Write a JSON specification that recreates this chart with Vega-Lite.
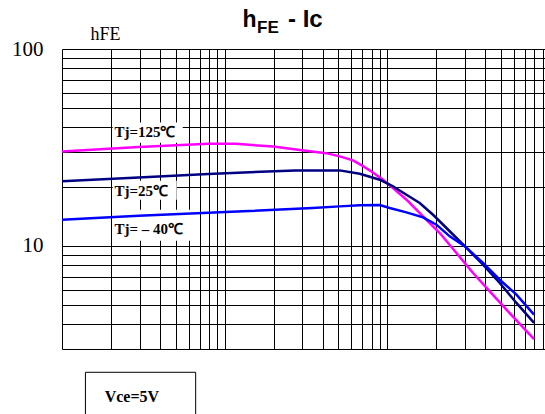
{
  "$schema": "https://vega.github.io/schema/vega-lite/v6.json",
  "autosize": {"type": "none"},
  "padding": {"left": 62, "top": 49, "right": 0, "bottom": 65},
  "width": 483,
  "height": 300,
  "background": "white",
  "config": {"view": {"stroke": null}},
  "datasets": {
    "curves": [
      {"Ic": 1, "hFE": 30.2, "Tj": "125"},
      {"Ic": 2.96, "hFE": 31.8, "Tj": "125"},
      {"Ic": 7.92, "hFE": 33.0, "Tj": "125"},
      {"Ic": 11.68, "hFE": 33.0, "Tj": "125"},
      {"Ic": 19.87, "hFE": 32.0, "Tj": "125"},
      {"Ic": 29.74, "hFE": 30.6, "Tj": "125"},
      {"Ic": 42, "hFE": 29.6, "Tj": "125"},
      {"Ic": 50.9, "hFE": 28.5, "Tj": "125"},
      {"Ic": 61.4, "hFE": 27.2, "Tj": "125"},
      {"Ic": 70, "hFE": 25.6, "Tj": "125"},
      {"Ic": 79.7, "hFE": 23.91, "Tj": "125"},
      {"Ic": 94.0, "hFE": 21.7, "Tj": "125"},
      {"Ic": 108.2, "hFE": 19.7, "Tj": "125"},
      {"Ic": 130.9, "hFE": 17.18, "Tj": "125"},
      {"Ic": 165.5, "hFE": 14.13, "Tj": "125"},
      {"Ic": 209.7, "hFE": 11.64, "Tj": "125"},
      {"Ic": 265.6, "hFE": 9.21, "Tj": "125"},
      {"Ic": 335.9, "hFE": 7.29, "Tj": "125"},
      {"Ic": 425.4, "hFE": 5.88, "Tj": "125"},
      {"Ic": 538.7, "hFE": 4.75, "Tj": "125"},
      {"Ic": 796.2, "hFE": 3.37, "Tj": "125"},
      {"Ic": 1, "hFE": 21.3, "Tj": "25"},
      {"Ic": 2.96, "hFE": 22.3, "Tj": "25"},
      {"Ic": 7.92, "hFE": 23.2, "Tj": "25"},
      {"Ic": 27.08, "hFE": 24.2, "Tj": "25"},
      {"Ic": 50.9, "hFE": 24.2, "Tj": "25"},
      {"Ic": 67.6, "hFE": 23.28, "Tj": "25"},
      {"Ic": 89.7, "hFE": 21.7, "Tj": "25"},
      {"Ic": 108.2, "hFE": 20.06, "Tj": "25"},
      {"Ic": 130.9, "hFE": 18.21, "Tj": "25"},
      {"Ic": 157.9, "hFE": 16.53, "Tj": "25"},
      {"Ic": 190.7, "hFE": 14.41, "Tj": "25"},
      {"Ic": 230.5, "hFE": 12.34, "Tj": "25"},
      {"Ic": 299.9, "hFE": 9.95, "Tj": "25"},
      {"Ic": 386.8, "hFE": 8.04, "Tj": "25"},
      {"Ic": 490.1, "hFE": 6.49, "Tj": "25"},
      {"Ic": 620.8, "hFE": 5.14, "Tj": "25"},
      {"Ic": 796.2, "hFE": 4.07, "Tj": "25"},
      {"Ic": 1, "hFE": 13.6, "Tj": "-40"},
      {"Ic": 2.96, "hFE": 14.25, "Tj": "-40"},
      {"Ic": 12.96, "hFE": 15.0, "Tj": "-40"},
      {"Ic": 34.65, "hFE": 15.6, "Tj": "-40"},
      {"Ic": 50.9, "hFE": 15.89, "Tj": "-40"},
      {"Ic": 67.6, "hFE": 16.08, "Tj": "-40"},
      {"Ic": 89.7, "hFE": 16.15, "Tj": "-40"},
      {"Ic": 103.3, "hFE": 15.59, "Tj": "-40"},
      {"Ic": 130.9, "hFE": 14.81, "Tj": "-40"},
      {"Ic": 165.5, "hFE": 13.97, "Tj": "-40"},
      {"Ic": 200.1, "hFE": 12.83, "Tj": "-40"},
      {"Ic": 241.5, "hFE": 11.19, "Tj": "-40"},
      {"Ic": 299.9, "hFE": 9.95, "Tj": "-40"},
      {"Ic": 386.8, "hFE": 8.2, "Tj": "-40"},
      {"Ic": 490.1, "hFE": 6.74, "Tj": "-40"},
      {"Ic": 620.8, "hFE": 5.66, "Tj": "-40"},
      {"Ic": 796.2, "hFE": 4.48, "Tj": "-40"}
    ],
    "boxes": [
      {"x1": 2.05, "x2": 5.52, "y1": 33.45, "y2": 42.3},
      {"x1": 2.05, "x2": 5.07, "y1": 17.18, "y2": 21.45},
      {"x1": 2.05, "x2": 6.36, "y1": 10.64, "y2": 15.29}
    ],
    "labels": [
      {"label": "Tj=125℃", "x": 2.1, "y": 35.88},
      {"label": "Tj=25℃", "x": 2.1, "y": 17.86},
      {"label": "Tj= – 40℃", "x": 2.1, "y": 11.5}
    ]
  },
  "layer": [
    {
      "data": {"name": "boxes"},
      "mark": {"type": "rect", "fill": "white", "stroke": null},
      "encoding": {
        "x": {"field": "x1", "type": "quantitative"},
        "x2": {"field": "x2"},
        "y": {"field": "y1", "type": "quantitative"},
        "y2": {"field": "y2"}
      }
    },
    {
      "data": {"name": "curves"},
      "mark": {"type": "line", "strokeWidth": 2.5, "interpolate": "linear"},
      "encoding": {
        "x": {
          "field": "Ic", "type": "quantitative",
          "scale": {"type": "log", "domain": [1, 930], "nice": false},
          "axis": {
            "title": null, "labels": false, "ticks": false, "domain": false,
            "grid": true, "gridColor": "black", "gridWidth": 1, "gridOpacity": 1,
            "values": [1,2,3,4,5,6,7,8,9,10,20,30,40,50,60,70,80,90,100,200,300,400,500,600,700,800,900]
          }
        },
        "y": {
          "field": "hFE", "type": "quantitative",
          "scale": {"type": "log", "domain": [3, 100], "nice": false},
          "axis": {
            "title": "hFE", "titleAngle": 0, "titleFont": "Liberation Serif", "titleFontSize": 18,
            "titleFontWeight": "normal", "titleColor": "black", "titleX": 43, "titleY": -10,
            "titleAlign": "center", "titleBaseline": "alphabetic",
            "ticks": false, "domain": false, "labelPadding": 19,
            "labelFont": "Liberation Serif", "labelFontSize": 21, "labelColor": "black",
            "labelOverlap": false, "labelFlush": false, "labelBound": false,
            "labelExpr": "datum.value == 10 || datum.value == 100 ? format(datum.value, 'd') : ''",
            "grid": true, "gridColor": "black", "gridWidth": 1, "gridOpacity": 1,
            "values": [3,4,5,6,7,8,9,10,20,30,40,50,60,70,80,90,100]
          }
        },
        "color": {
          "field": "Tj", "type": "nominal",
          "scale": {"domain": ["125", "25", "-40"], "range": ["#FF00FF", "#000080", "#0000FF"]},
          "legend": null
        }
      }
    },
    {
      "data": {"name": "labels"},
      "mark": {"type": "text", "align": "left", "baseline": "alphabetic", "font": "Liberation Serif", "fontWeight": "bold", "fontSize": 15, "color": "black"},
      "encoding": {
        "x": {"field": "x", "type": "quantitative"},
        "y": {"field": "y", "type": "quantitative"},
        "text": {"field": "label"}
      }
    },
    {
      "data": {"values": [{}]},
      "mark": {"type": "rect", "fill": null, "stroke": "black", "strokeWidth": 1},
      "encoding": {
        "x": {"datum": 1.393, "type": "quantitative"},
        "x2": {"datum": 6.63},
        "y": {"datum": 2.285, "type": "quantitative"},
        "y2": {"datum": 1.3}
      }
    },
    {
      "data": {"values": [{}]},
      "mark": {"type": "text", "text": "Vce=5V", "align": "left", "baseline": "alphabetic", "font": "Liberation Serif", "fontWeight": "bold", "fontSize": 16, "color": "black"},
      "encoding": {
        "x": {"datum": 1.83, "type": "quantitative"},
        "y": {"datum": 1.62, "type": "quantitative"}
      }
    },
    {
      "data": {"values": [{}]},
      "mark": {"type": "text", "text": "h", "align": "left", "baseline": "alphabetic", "font": "Liberation Sans", "fontWeight": "bold", "fontSize": 23, "color": "black"},
      "encoding": {
        "x": {"datum": 12.85, "type": "quantitative"},
        "y": {"datum": 129.8, "type": "quantitative"}
      }
    },
    {
      "data": {"values": [{}]},
      "mark": {"type": "text", "text": "FE", "align": "left", "baseline": "alphabetic", "font": "Liberation Sans", "fontWeight": "bold", "fontSize": 17, "color": "black"},
      "encoding": {
        "x": {"datum": 15.8, "type": "quantitative"},
        "y": {"datum": 120.1, "type": "quantitative"}
      }
    },
    {
      "data": {"values": [{}]},
      "mark": {"type": "text", "text": "- Ic", "align": "left", "baseline": "alphabetic", "font": "Liberation Sans", "fontWeight": "bold", "fontSize": 24, "color": "black"},
      "encoding": {
        "x": {"datum": 24.5, "type": "quantitative"},
        "y": {"datum": 129.8, "type": "quantitative"}
      }
    }
  ]
}
